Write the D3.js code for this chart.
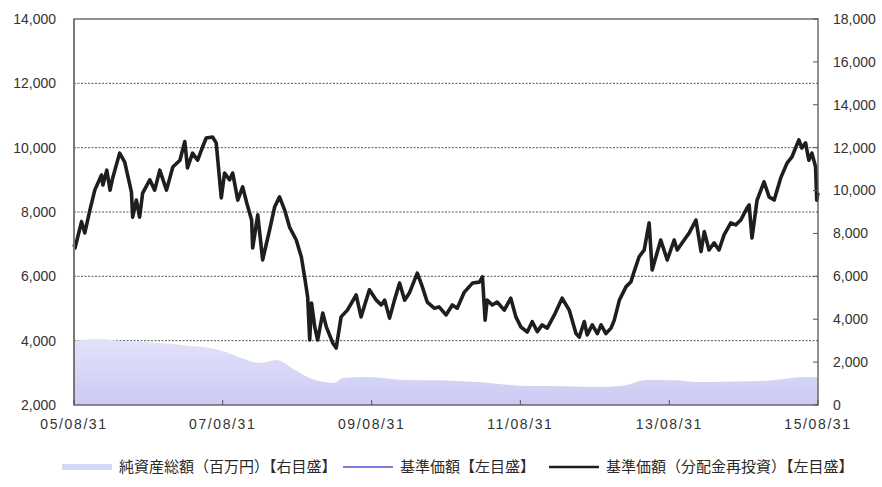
<!DOCTYPE html>
<html>
<head>
<meta charset="utf-8">
<script src="https://cdn.jsdelivr.net/npm/d3@7/dist/d3.min.js"></script>
<style>
  body { margin: 0; background: #fff; }
  svg { display: block; }
  .lbl { font-family: "Liberation Sans", Arial, sans-serif; font-size: 14px; fill: #333; }
  .leg { font-family: "Noto Sans CJK JP", sans-serif; font-size: 15px; fill: #2a2a2a; }
</style>
</head>
<body>
<svg width="882" height="487"></svg>
<script>
// 基準価額 (NAV) - dates and values
var navDates = [
  "2005-08-31","2005-09-05","2005-10-07","2005-10-23","2005-11-17","2005-12-11","2006-01-13","2006-01-20",
  "2006-02-08","2006-02-24","2006-03-09","2006-04-12","2006-05-07","2006-06-09","2006-06-15","2006-07-03",
  "2006-07-19","2006-08-03","2006-09-07","2006-10-01","2006-10-26","2006-11-28","2006-12-29","2007-02-02",
  "2007-02-26","2007-03-11","2007-04-05","2007-04-30","2007-05-24","2007-06-11","2007-07-12","2007-07-30",
  "2007-08-24","2007-09-09","2007-10-04","2007-10-19","2007-11-13","2007-12-07","2007-12-27","2008-01-20",
  "2008-01-25","2008-02-19","2008-03-14","2008-04-17","2008-05-12","2008-06-05","2008-06-30","2008-07-24",
  "2008-08-26","2008-09-20","2008-10-06","2008-10-21","2008-10-31","2008-11-09","2008-11-25","2008-12-09",
  "2009-01-03","2009-01-21","2009-02-21","2009-03-10","2009-04-03","2009-05-04","2009-06-16","2009-07-10",
  "2009-08-20","2009-09-23","2009-10-17","2009-11-03","2009-11-27","2009-12-21","2010-01-15","2010-02-09",
  "2010-03-04","2010-04-12","2010-05-07","2010-05-31","2010-07-04","2010-07-28","2010-08-31","2010-10-01",
  "2010-10-25","2010-11-29","2011-01-08","2011-02-11","2011-02-26","2011-03-11","2011-03-21","2011-04-15",
  "2011-05-09","2011-06-13","2011-07-15","2011-08-09","2011-09-03","2011-10-04","2011-10-28","2011-11-22",
  "2011-12-16","2012-01-10","2012-02-14","2012-03-23","2012-04-27","2012-05-30","2012-06-15","2012-07-10",
  "2012-07-24","2012-08-18","2012-09-12","2012-09-30","2012-10-24","2012-11-18","2012-12-04","2012-12-29",
  "2013-01-31","2013-02-24","2013-03-11","2013-04-05","2013-04-30","2013-05-24","2013-06-08","2013-07-20",
  "2013-08-21","2013-09-24","2013-10-09","2013-11-12","2013-12-07","2014-01-09","2014-02-03","2014-02-19",
  "2014-03-14","2014-04-08","2014-05-02","2014-05-27","2014-06-29","2014-07-23","2014-08-17","2014-09-17",
  "2014-09-27","2014-10-11","2014-11-05","2014-12-09","2015-01-03","2015-01-28","2015-03-01","2015-04-01",
  "2015-04-25","2015-05-29","2015-06-13","2015-07-01","2015-07-17","2015-08-01","2015-08-19","2015-08-25",
  "2015-08-31"
];
var navValues = [
  7000,6880,7700,7350,8060,8680,9150,8840,
  9300,8680,9060,9830,9550,8620,7840,8370,
  7840,8590,9000,8680,9300,8680,9400,9610,
  10190,9370,9830,9610,10020,10300,10330,10150,
  8440,9210,9000,9210,8370,8780,8280,7750,
  6880,7910,6510,7440,8160,8470,8060,7530,
  7130,6600,5980,5360,4020,5170,4420,4020,
  4860,4420,3930,3770,4740,4950,5420,4740,
  5580,5260,5110,5260,4700,5260,5790,5260,
  5480,6100,5670,5200,5010,5050,4800,5110,
  5010,5510,5790,5820,5980,4640,5260,5110,
  5200,4950,5320,4740,4420,4270,4590,4280,
  4490,4390,4800,5320,4950,4220,4110,4590,
  4180,4490,4220,4490,4220,4390,4640,5260,
  5680,5830,6140,6610,6820,7660,6200,7130,
  6510,7130,6820,7130,7350,7750,6770,7390,
  6820,7040,6820,7290,7660,7600,7750,8130,
  8220,7190,8370,8940,8470,8370,9060,9520,
  9710,10240,9990,10150,9610,9830,9410,8370,
  8600
];
// 基準価額(分配金再投資) - no distributions, same path as the NAV
var reinvValues = navValues;

// 純資産総額(百万円) - right axis
var aumDates = [
  "2005-08-31","2005-11-01","2006-01-15","2006-04-01","2006-07-01","2006-11-01","2007-03-01","2007-07-01",
  "2007-09-15","2007-12-01","2008-03-01","2008-05-20","2008-08-20","2008-10-31","2009-01-12","2009-02-26",
  "2009-04-14","2009-08-12","2010-02-14","2010-08-01","2011-02-01","2011-09-30","2012-04-01","2012-09-15",
  "2013-01-15","2013-05-15","2013-10-01","2014-01-15","2014-07-01","2014-12-01","2015-07-01","2015-08-31"
];
var aumValues = [
  2980,3060,3080,3000,2950,2890,2780,2660,
  2470,2190,1960,2100,1630,1260,1070,1030,
  1260,1310,1170,1150,1070,890,880,840,
  900,1170,1150,1070,1100,1120,1310,1300
];

var leftTicks = [2000,4000,6000,8000,10000,12000,14000];
var rightTicks = [0,2000,4000,6000,8000,10000,12000,14000,16000,18000];
var xTicks = ["2005-08-31","2007-08-31","2009-08-31","2011-08-31","2013-08-31","2015-08-31"];
var legendLabels = ["純資産総額（百万円）【右目盛】","基準価額【左目盛】","基準価額（分配金再投資）【左目盛】"];

var parse = d3.timeParse("%Y-%m-%d");
var fmt = d3.timeFormat("%y/%m/%d");

var L = 74, R = 818, T = 19, B = 405;
var svg = d3.select("svg");

var x = d3.scaleTime().domain([parse("2005-08-31"), parse("2015-08-31")]).range([L, R]);
var yL = d3.scaleLinear().domain([2000, 14000]).range([B, T]);
var yR = d3.scaleLinear().domain([0, 18000]).range([B, T]);

var defs = svg.append("defs");
var grad = defs.append("linearGradient").attr("id", "aumGrad")
    .attr("x1", 0).attr("y1", 0).attr("x2", 0).attr("y2", 1);
grad.append("stop").attr("offset", "0%").attr("stop-color", "#e2e2fa");
grad.append("stop").attr("offset", "100%").attr("stop-color", "#cbcbf3");

// dotted gridlines
svg.append("g").selectAll("line")
    .data(leftTicks.filter(function(t) { return t > 2000 && t < 14000; }))
    .enter().append("line")
    .attr("x1", L).attr("x2", R)
    .attr("y1", function(d) { return yL(d); }).attr("y2", function(d) { return yL(d); })
    .attr("stroke", "#555").attr("stroke-width", 1).attr("stroke-dasharray", "2,1.5");

// area (純資産総額), drawn over the grid
var aum = aumDates.map(function(d, i) { return { date: parse(d), v: aumValues[i] }; });
svg.append("path")
    .datum(aum)
    .attr("fill", "url(#aumGrad)")
    .attr("d", d3.area().curve(d3.curveMonotoneX)
        .x(function(d) { return x(d.date); }).y0(B).y1(function(d) { return yR(d.v); }));

// lines
var nav = navDates.map(function(d, i) { return { date: parse(d), v: navValues[i] }; });
var reinv = navDates.map(function(d, i) { return { date: parse(d), v: reinvValues[i] }; });
var line = d3.line().x(function(d) { return x(d.date); }).y(function(d) { return yL(d.v); });

svg.append("path").datum(nav)
    .attr("fill", "none").attr("stroke", "#7b7be3").attr("stroke-width", 1.5)
    .attr("d", line);
svg.append("path").datum(reinv)
    .attr("fill", "none").attr("stroke", "#1e1e1e").attr("stroke-width", 3.6)
    .attr("stroke-linejoin", "round")
    .attr("d", line);

// frame
svg.append("rect")
    .attr("x", L).attr("y", T).attr("width", R - L).attr("height", B - T)
    .attr("fill", "none").attr("stroke", "#555").attr("stroke-width", 1.3);
svg.append("line")
    .attr("x1", L).attr("x2", L).attr("y1", T).attr("y2", B)
    .attr("stroke", "#777").attr("stroke-width", 2);

// left axis labels
svg.append("g").selectAll("text")
    .data(leftTicks).enter().append("text")
    .attr("class", "lbl")
    .attr("x", 56).attr("y", function(d) { return yL(d); })
    .attr("dy", "0.35em").attr("text-anchor", "end")
    .text(d3.format(","));

// right axis ticks + labels
svg.append("g").selectAll("line")
    .data(rightTicks).enter().append("line")
    .attr("x1", R - 5).attr("x2", R)
    .attr("y1", function(d) { return yR(d); }).attr("y2", function(d) { return yR(d); })
    .attr("stroke", "#555");
svg.append("g").selectAll("text")
    .data(rightTicks).enter().append("text")
    .attr("class", "lbl")
    .attr("x", 833).attr("y", function(d) { return yR(d); })
    .attr("dy", "0.35em")
    .text(d3.format(","));

// x axis ticks + labels
svg.append("g").selectAll("line")
    .data(xTicks).enter().append("line")
    .attr("x1", function(d) { return x(parse(d)); }).attr("x2", function(d) { return x(parse(d)); })
    .attr("y1", B - 5).attr("y2", B)
    .attr("stroke", "#555");
svg.append("g").selectAll("text")
    .data(xTicks).enter().append("text")
    .attr("class", "lbl")
    .attr("x", function(d) { return x(parse(d)); }).attr("y", 429)
    .attr("text-anchor", "middle")
    .attr("letter-spacing", "1.6")
    .text(function(d) { return fmt(parse(d)); });

// legend
var legX = [62, 343, 549];
var legStyle = [
  { c: "#d6d6f6", w: 6 },
  { c: "#7b7be3", w: 2 },
  { c: "#1e1e1e", w: 2.5 }
];
var leg = svg.append("g").selectAll("g")
    .data(legendLabels).enter().append("g")
    .attr("transform", function(d, i) { return "translate(" + legX[i] + ",467)"; });
leg.append("line")
    .attr("x1", 0).attr("x2", 50).attr("y1", 0).attr("y2", 0)
    .attr("stroke", function(d, i) { return legStyle[i].c; })
    .attr("stroke-width", function(d, i) { return legStyle[i].w; });
leg.append("text")
    .attr("class", "leg")
    .attr("x", 57).attr("dy", "0.35em")
    .text(function(d) { return d; });
</script>
</body>
</html>
